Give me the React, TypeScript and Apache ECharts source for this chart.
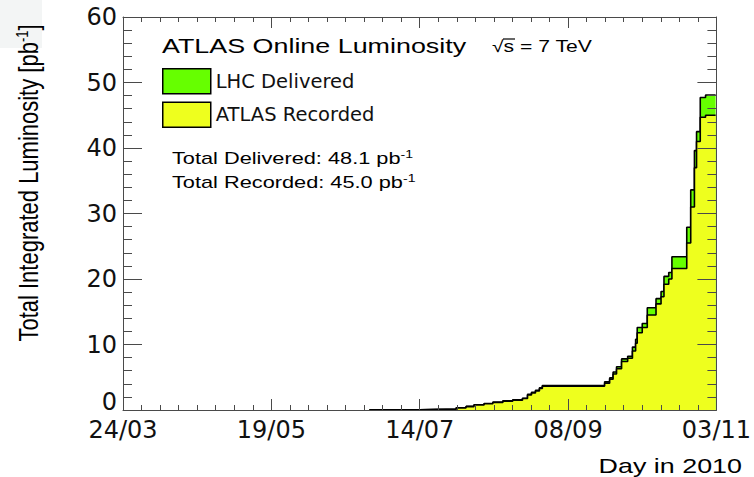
import React, { useEffect, useRef } from "react";
import * as echarts from "echarts";

// Day offsets (days since 24/03/2010) at which the integrated luminosity steps up
const runDays = [93, 112, 118.3, 125.8, 129.5, 132.5, 136.3, 139.6, 143.4, 147.1, 150.8, 152.7, 154.2, 155.7, 157.2, 158.3, 181.8, 183.7, 185.0, 186.3, 188.2, 190.5, 192.3, 193.5, 194.1, 196.0, 197.9, 201.2, 203.1, 204.2, 206.0, 207.2, 212.8, 214.3, 215.7, 216.5, 217.9, 219.9, 223.7];
// LHC delivered, pb^-1
const deliveredValues = [0.03, 0.1, 0.15, 0.35, 0.55, 0.8, 1.0, 1.2, 1.4, 1.55, 1.8, 2.4, 2.7, 3.0, 3.4, 3.75, 4.3, 4.9, 5.8, 6.6, 7.8, 8.2, 9.6, 10.8, 12.6, 13.2, 15.6, 17.0, 18.1, 20.4, 21.0, 23.4, 27.9, 33.6, 39.6, 42.5, 47.7, 48.1, 48.1];
// ATLAS recorded, pb^-1
const recordedValues = [0.02, 0.08, 0.13, 0.33, 0.52, 0.77, 0.95, 1.15, 1.35, 1.5, 1.75, 2.3, 2.6, 2.9, 3.3, 3.65, 4.1, 4.7, 5.5, 6.3, 7.4, 7.9, 9.0, 10.2, 11.8, 12.6, 14.5, 16.2, 17.3, 19.2, 20.0, 21.6, 25.5, 31.0, 37.0, 41.0, 44.7, 45.0, 45.0];

const xTickLabels = ["24/03", "19/05", "14/07", "08/09", "03/11"];
const xTickStep = 56;
const xMax = 224;
const yMax = 60;
const yTickStep = 10;

const seriesNames = ["LHC Delivered", "ATLAS Recorded"];
const totalDelivered = "48.1";
const totalRecorded = "45.0";

const GREEN = "#66ff00";
const YELLOW = "#eeff1e";
const AXIS = "#4a4a4a";
const SX = 1.28;
const W = 754;
const H = 477;

export default function App() {
  const ref = useRef<HTMLDivElement>(null);

  useEffect(() => {
    if (!ref.current) return;
    const chart = echarts.init(ref.current, undefined, { renderer: "svg", width: W, height: H });

    const deliveredData = runDays.map((d, i) => [d, deliveredValues[i]]);
    const recordedData = runDays.map((d, i) => [d, recordedValues[i]]);

    const xCommon = {
      type: "value",
      min: 0,
      max: xMax,
      interval: xTickStep,
      z: 5,
      axisLine: { show: true, onZero: false, lineStyle: { color: AXIS, width: 1 } },
      axisTick: { show: true, inside: true, length: 11, lineStyle: { color: AXIS, width: 1 } },
      minorTick: { show: true, splitNumber: 8, length: 5, lineStyle: { color: AXIS, width: 1 } },
      splitLine: { show: false },
    };
    const yCommon = {
      type: "value",
      min: 0,
      max: yMax,
      interval: yTickStep,
      z: 5,
      axisLine: { show: true, onZero: false, lineStyle: { color: AXIS, width: 1 } },
      axisTick: { show: true, inside: true, length: 19, lineStyle: { color: AXIS, width: 1 } },
      minorTick: { show: true, splitNumber: 5, length: 9, lineStyle: { color: AXIS, width: 1 } },
      splitLine: { show: false },
    };

    const textBase = { fontFamily: "Liberation Sans", fill: "#000" };
    const supRich = (size: number) => ({ sup: { fontSize: size, verticalAlign: "top", fontFamily: "Liberation Sans" } });

    chart.setOption({
      animation: false,
      backgroundColor: "#ffffff",
      grid: { left: 123, right: 31, top: 17, bottom: 67, containLabel: false },
      xAxis: [
        {
          ...xCommon,
          position: "bottom",
          axisLabel: {
            show: true,
            margin: 11,
            lineHeight: 18,
            color: "#111",
            fontFamily: "DejaVu Sans",
            fontSize: 24,
            formatter: (v: number) => xTickLabels[Math.round(v / xTickStep)] ?? "",
          },
        },
        { ...xCommon, position: "top", axisLabel: { show: false } },
      ],
      yAxis: [
        {
          ...yCommon,
          position: "left",
          axisLabel: {
            show: true,
            margin: 6,
            lineHeight: 14,
            color: "#111",
            fontFamily: "DejaVu Sans",
            fontSize: 24,
            formatter: (v: number) => (v === 0 ? "{z|0}" : String(v)),
            rich: {
              z: { fontFamily: "DejaVu Sans", fontSize: 24, color: "#111", lineHeight: 14, padding: [0, 0, 16, 0] },
            },
          },
        },
        { ...yCommon, position: "right", axisLabel: { show: false } },
      ],
      legend: {
        show: true,
        orient: "vertical",
        left: 162,
        top: 68,
        padding: 0,
        itemWidth: 48,
        itemHeight: 25,
        itemGap: 7,
        icon: "rect",
        selectedMode: false,
        data: [
          { name: seriesNames[0], itemStyle: { color: GREEN, borderColor: "#000", borderWidth: 1.5 } },
          { name: seriesNames[1], itemStyle: { color: YELLOW, borderColor: "#000", borderWidth: 1.5 } },
        ],
        textStyle: { fontFamily: "DejaVu Sans", fontSize: 19.5, color: "#111" },
      },
      series: [
        {
          name: seriesNames[0],
          type: "line",
          step: "end",
          data: deliveredData,
          symbol: "none",
          xAxisIndex: 0,
          yAxisIndex: 0,
          itemStyle: { color: GREEN },
          lineStyle: { color: "#000", width: 1.6 },
          areaStyle: { color: GREEN, opacity: 1 },
          z: 2,
        },
        {
          name: seriesNames[1],
          type: "line",
          step: "end",
          data: recordedData,
          symbol: "none",
          xAxisIndex: 0,
          yAxisIndex: 0,
          itemStyle: { color: YELLOW },
          lineStyle: { color: "#000", width: 1.6 },
          areaStyle: { color: YELLOW, opacity: 1 },
          z: 3,
        },
      ],
      graphic: [
        { type: "rect", left: 0, top: 0, shape: { width: 42, height: 48 }, style: { fill: "#f3f5f5" }, z: -1 },
        {
          type: "text",
          x: 28,
          y: 183,
          rotation: Math.PI / 2,
          scaleY: SX,
          style: {
            ...textBase,
            text: "Total Integrated Luminosity [pb{sup|-1}]",
            fontSize: 22,
            align: "center",
            verticalAlign: "middle",
            rich: supRich(13),
          },
        },
        {
          type: "text",
          x: 162,
          y: 46,
          scaleX: SX,
          style: { ...textBase, text: "ATLAS Online Luminosity", fontSize: 21, align: "left", verticalAlign: "middle" },
        },
        {
          type: "text",
          x: 492,
          y: 46,
          scaleX: SX,
          style: { ...textBase, text: "√s = 7 TeV", fontSize: 16.5, align: "left", verticalAlign: "middle" },
        },
        {
          type: "line",
          shape: { x1: 503, y1: 39, x2: 515, y2: 39 },
          style: { stroke: "#000", lineWidth: 1.2 },
        },
        {
          type: "text",
          x: 172,
          y: 158,
          scaleX: SX,
          style: {
            ...textBase,
            text: "Total Delivered: " + totalDelivered + " pb{sup|-1}",
            fontSize: 17,
            align: "left",
            verticalAlign: "middle",
            rich: supRich(11),
          },
        },
        {
          type: "text",
          x: 172,
          y: 182,
          scaleX: SX,
          style: {
            ...textBase,
            text: "Total Recorded: " + totalRecorded + " pb{sup|-1}",
            fontSize: 17,
            align: "left",
            verticalAlign: "middle",
            rich: supRich(11),
          },
        },
        {
          type: "text",
          x: 742,
          y: 466,
          scaleX: SX,
          style: { ...textBase, text: "Day in 2010", fontSize: 21, align: "right", verticalAlign: "middle" },
        },
      ],
    });

    return () => {
      chart.dispose();
    };
  }, []);

  return (
    <div
      ref={ref}
      style={{ position: "fixed", left: 0, top: 0, width: W, height: H, background: "#fff" }}
    />
  );
}
